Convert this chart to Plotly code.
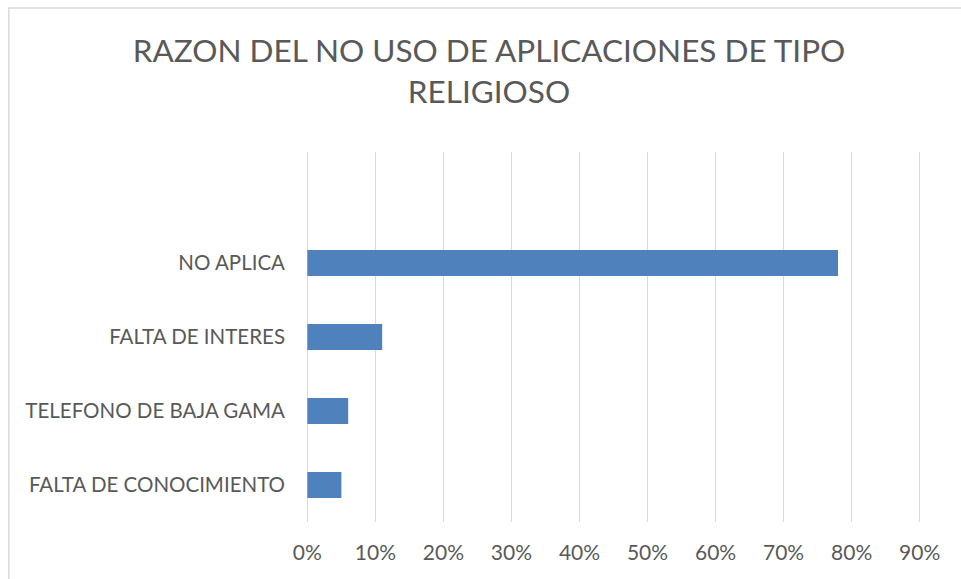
import plotly.graph_objects as go

# Chart data
categories = ["FALTA DE CONOCIMIENTO", "TELEFONO DE BAJA GAMA", "FALTA DE INTERES", "NO APLICA"]
shares = [0.05, 0.06, 0.11, 0.78]
tick_values = [0, 0.1, 0.2, 0.3, 0.4, 0.5, 0.6, 0.7, 0.8, 0.9]
tick_labels = ["0%", "10%", "20%", "30%", "40%", "50%", "60%", "70%", "80%", "90%"]
title_text = "RAZON DEL NO USO DE APLICACIONES DE TIPO<br>RELIGIOSO"

W, H = 961, 579
L, R, T, B = 306, 40.2, 152, 57
TEXT = "#595959"
FONT = "Lato"

fig = go.Figure(
    go.Bar(
        x=shares,
        y=categories,
        orientation="h",
        width=0.35,
        marker=dict(color="#4F81BD", line=dict(width=0)),
        hoverinfo="x+y",
    )
)

# chart frame: light border on the top and left edges
pw, ph = W - L - R, H - T - B
def px_to_paper_x(px):
    return (px - L) / pw
def px_to_paper_y(py):
    return (H - B - py) / ph

fig.add_shape(
    type="rect", xref="paper", yref="paper", layer="below",
    x0=px_to_paper_x(9), x1=px_to_paper_x(980),
    y0=px_to_paper_y(600), y1=px_to_paper_y(8),
    line=dict(color="#D9D9D9", width=1.5), fillcolor="rgba(0,0,0,0)",
)

fig.update_layout(
    width=W, height=H,
    margin=dict(l=L, r=R, t=T, b=B, pad=0),
    paper_bgcolor="white", plot_bgcolor="white",
    showlegend=False,
    font=dict(family=FONT, color=TEXT),
    title=dict(
        text=title_text,
        x=489 / W, xanchor="center", xref="container",
        y=1 - 62 / H, yanchor="top", yref="container",
        font=dict(family=FONT, size=31.5, color=TEXT),
    ),
    xaxis=dict(
        range=[-0.002, 0.902],
        tickvals=tick_values, ticktext=tick_labels,
        showgrid=True, gridcolor="#D9D9D9", gridwidth=1.4,
        zeroline=False, showline=False, ticks="",
        tickfont=dict(family=FONT, size=21, color=TEXT),
        ticklabelstandoff=16,
        fixedrange=True,
    ),
    yaxis=dict(
        type="category",
        categoryorder="array", categoryarray=categories,
        range=[-0.5, 4.5],
        showgrid=False, zeroline=False, showline=False, ticks="",
        tickfont=dict(family=FONT, size=20.5, color=TEXT),
        ticklabelstandoff=20,
        fixedrange=True,
    ),
)

fig.write_html("out.html")
